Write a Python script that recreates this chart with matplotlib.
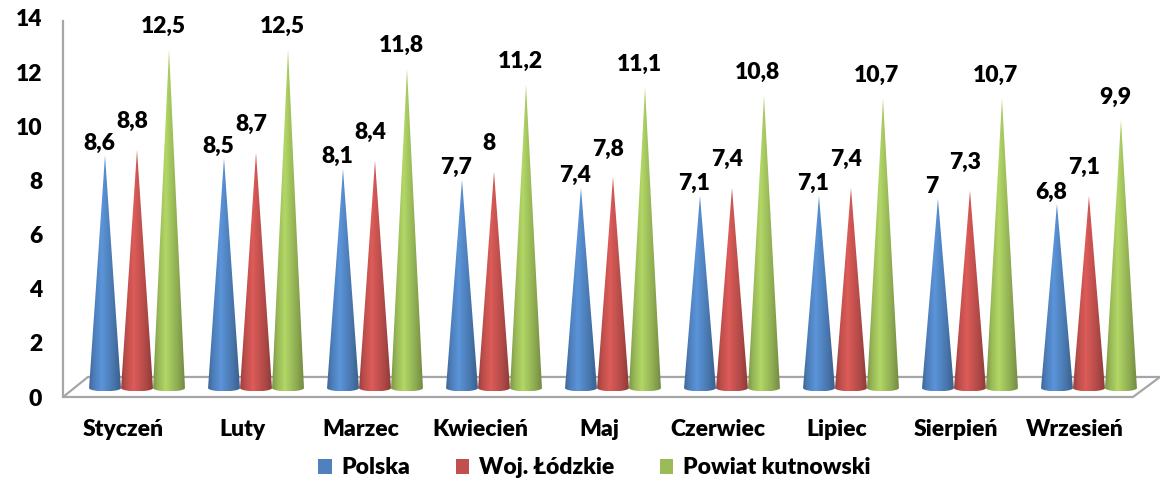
import numpy as np
import matplotlib.pyplot as plt
from matplotlib.patches import Polygon, Patch
from matplotlib.colors import to_rgb

months = ['Styczeń', 'Luty', 'Marzec', 'Kwiecień', 'Maj', 'Czerwiec', 'Lipiec', 'Sierpień', 'Wrzesień']
series = ['Polska', 'Woj. Łódzkie', 'Powiat kutnowski']
polska = [8.6, 8.5, 8.1, 7.7, 7.4, 7.1, 7.1, 7.0, 6.8]
lodzkie = [8.8, 8.7, 8.4, 8.0, 7.8, 7.4, 7.4, 7.3, 7.1]
kutno = [12.5, 12.5, 11.8, 11.2, 11.1, 10.8, 10.7, 10.7, 9.9]
colors = ['#4F81BD', '#C0504D', '#9BBB59']

plt.rcParams['font.family'] = ['Lato', 'DejaVu Sans']
plt.rcParams['font.weight'] = 'heavy'
fs = 16.5

fig = plt.figure(figsize=(11.6, 4.84), dpi=100)
# axes placed so that 0 -> y=397px, 14 -> y=18px, x from 63px to 1160px
ax = fig.add_axes([63 / 1160, 87 / 484, 1097 / 1160, 379 / 484])
xmin, xmax = -0.622, 8.597
ax.set_xlim(xmin, xmax)
ax.set_ylim(0, 14)
for s in ax.spines.values():
    s.set_visible(False)

# floor and wall
floor = Polygon([(xmin, 0), (8.37, 0), (xmax, 0.74), (-0.412, 0.74)],
                closed=True, facecolor='white', edgecolor='#A6A6A6', lw=1.6, clip_on=False, zorder=1)
ax.add_patch(floor)
ax.plot([xmin, xmin], [0, 13.9], color='#A6A6A6', lw=1.6, clip_on=False, zorder=1)


def shade(c):
    base = np.array(to_rgb(c))
    t = np.linspace(0, 1, 80)
    f = np.interp(t, [0, 0.15, 0.4, 0.75, 1], [0.8, 0.97, 1.15, 0.93, 0.74])
    img = np.clip(base[None, :] * f[:, None], 0, 1)
    return img[None, :, :]


hw = 0.134      # half base width (group units)
step = 0.269    # distance between cones in a group
b0 = 0.33       # cone base level
ell = 0.12      # depth of base ellipse
offs = [(-6, 12), (-5, 28), (-6, 23)]  # label offsets in px

for k, vals in enumerate([polska, lodzkie, kutno]):
    img = shade(colors[k])
    for i, v in enumerate(vals):
        xc = i + (k - 1) * step
        th = np.linspace(np.pi, 2 * np.pi, 30)
        base_pts = [(xc + hw * np.cos(a), b0 + ell * np.sin(a)) for a in th]
        pts = [(xc, b0 + v)] + base_pts
        poly = Polygon(pts, closed=True, facecolor='none', edgecolor='none', zorder=3)
        ax.add_patch(poly)
        im = ax.imshow(img, extent=[xc - hw, xc + hw, b0 - ell, b0 + v], aspect='auto',
                       interpolation='bilinear', zorder=3)
        im.set_clip_path(poly)
        lab = f'{v:g}'.replace('.', ',')
        ax.annotate(lab, (xc, b0 + v), xytext=(offs[k][0] * 0.72, offs[k][1] * 0.72),
                    textcoords='offset points', ha='center', va='center',
                    fontsize=fs, zorder=5)

ax.set_xlim(xmin, xmax)
ax.set_ylim(0, 14)
ax.set_yticks(range(0, 15, 2))
ax.tick_params(axis='y', length=0, pad=15, labelsize=fs)
ax.set_xticks(np.arange(len(months)) - 0.118)
ax.set_xticklabels(months)
ax.tick_params(axis='x', length=0, pad=16, labelsize=fs)

handles = [Patch(facecolor=c, edgecolor='none') for c in colors]
fig.legend(handles, series, loc='center', bbox_to_anchor=(594 / 1160, 1 - 468 / 484), ncol=3,
           frameon=False, fontsize=fs, handlelength=0.6, handleheight=0.6,
           handletextpad=0.4, columnspacing=2.0)

fig.savefig('out.png', dpi=100)
